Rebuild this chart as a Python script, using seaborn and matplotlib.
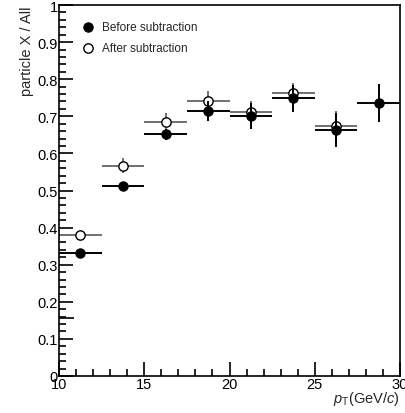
import numpy as np
import pandas as pd
import matplotlib
matplotlib.use("Agg")
import matplotlib.pyplot as plt
import seaborn as sns
from matplotlib.ticker import MultipleLocator

# Data
pt_before = [11.25, 13.75, 16.25, 18.75, 21.25, 23.75, 26.25, 28.75]
val_before = [0.332, 0.512, 0.652, 0.714, 0.700, 0.749, 0.663, 0.736]
yerr_before = [0.008, 0.008, 0.015, 0.027, 0.035, 0.036, 0.045, 0.05]
pt_after = [11.25, 13.75, 16.25, 18.75, 21.25, 23.75, 26.25]
val_after = [0.380, 0.567, 0.684, 0.742, 0.712, 0.762, 0.675]
yerr_after = [0.008, 0.02, 0.025, 0.027, 0.03, 0.028, 0.04]
bin_half = 1.25
stray_y = 0.157
stray_x = [10.0, 10.9]

sns.set_style("ticks")
plt.rcParams['font.family'] = ['Liberation Sans', 'DejaVu Sans']
plt.rcParams['mathtext.fontset'] = 'custom'
plt.rcParams['mathtext.rm'] = 'Liberation Sans'
plt.rcParams['mathtext.it'] = 'Liberation Sans:italic'

fig = plt.figure(figsize=(4.05, 4.14), dpi=100)
ax = fig.add_axes([0.1457, 0.0894, 0.842, 0.896])

df_b = pd.DataFrame({"pt": pt_before, "val": val_before})
df_a = pd.DataFrame({"pt": pt_after, "val": val_after})

# After subtraction (drawn first, behind)
ax.errorbar(pt_after, val_after, xerr=bin_half, yerr=yerr_after, fmt='none',
            ecolor='#707070', elinewidth=1.4, capsize=0, zorder=2)
sns.scatterplot(data=df_a, x="pt", y="val", ax=ax, marker='o', s=45,
                facecolor='white', edgecolor='black', linewidth=1.0, zorder=3,
                label="After subtraction")
# Before subtraction
ax.errorbar(pt_before, val_before, xerr=bin_half, yerr=yerr_before, fmt='none',
            ecolor='black', elinewidth=1.4, capsize=0, zorder=4)
sns.scatterplot(data=df_b, x="pt", y="val", ax=ax, marker='o', s=45,
                color='black', edgecolor='black', linewidth=0.8, zorder=5,
                label="Before subtraction")

ax.hlines(stray_y, stray_x[0], stray_x[1], color='black', lw=1.2, zorder=2)

ax.set_xlim(10, 30)
ax.set_ylim(0, 1)
ax.xaxis.set_minor_locator(MultipleLocator(1))
ax.yaxis.set_minor_locator(MultipleLocator(0.02))
ax.set_xticks([10, 15, 20, 25, 30])
ax.set_xticklabels(["10", "15", "20", "25", "30"])
ax.set_yticks([0, 0.1, 0.2, 0.3, 0.4, 0.5, 0.6, 0.7, 0.8, 0.9, 1.0])
ax.set_yticklabels(["0", "0.1", "0.2", "0.3", "0.4", "0.5", "0.6", "0.7", "0.8", "0.9", "1"])
ax.tick_params(which='both', direction='in', top=False, right=False, width=1.2,
               labelsize=10.5, colors='black')
ax.tick_params(axis='y', which='major', length=10, pad=1)
ax.tick_params(axis='y', which='minor', length=5)
ax.tick_params(axis='x', which='major', length=10, pad=1)
ax.tick_params(axis='x', which='minor', length=5)
for s in ax.spines.values():
    s.set_visible(True)
    s.set_linewidth(1.2)
    s.set_color('black')

ax.set_xlabel(r"$p_{\mathrm{T}}$(GeV/$c$)", fontsize=10.5, loc='right', labelpad=-2)
ax.set_ylabel("particle X / All", fontsize=10.5, loc='top', labelpad=2)

h, l = ax.get_legend_handles_labels()
order = [l.index("Before subtraction"), l.index("After subtraction")]
ax.legend([h[i] for i in order], [l[i] for i in order], loc='upper left',
          bbox_to_anchor=(0.03, 0.975), frameon=False, fontsize=8.5,
          handletextpad=0.2, labelspacing=0.75, borderaxespad=0.2, markerscale=1.0)

fig.savefig("out.png", dpi=100)
